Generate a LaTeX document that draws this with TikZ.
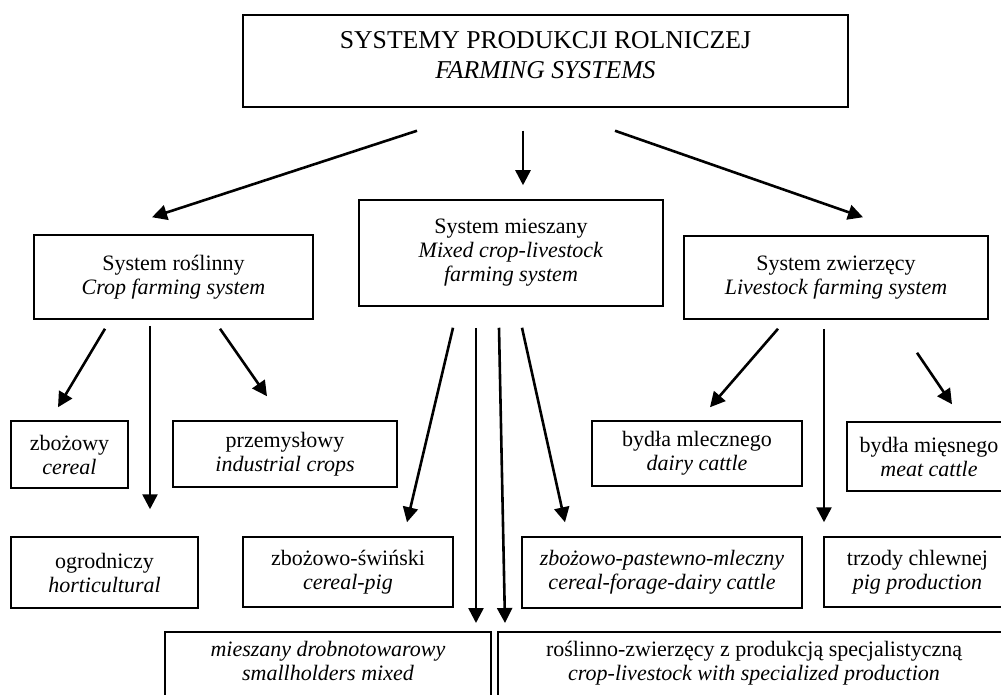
\documentclass[tikz,border=0pt]{standalone}
\usepackage{fontspec}
\setmainfont{Liberation Serif}
\usepackage{tikz}
\usetikzlibrary{arrows.meta}

\begin{document}
\begin{tikzpicture}[
            x=1pt, y=-1pt,
            box/.style={draw=black, line width=1.5pt, rectangle, inner sep=0pt, align=center, font=\fontsize{22}{24}\selectfont},
            topbox/.style={box, font=\fontsize{25.7}{30}\selectfont, text depth=12pt},
            lowbox/.style={box, anchor=north, inner ysep=9pt, text depth=60pt},
            edge/.style={line width=2.6pt, -{Triangle[length=15pt, width=15pt]}}
        ]

        \useasboundingbox (0,0) rectangle (1001,695);
        \clip (0,0) rectangle (1001,695);

        % Knoten
        \node[topbox, minimum width=605pt, minimum height=92pt] (farm) at (545.5,61) {SYSTEMY PRODUKCJI ROLNICZEJ\\ \textit{FARMING SYSTEMS}};
        \node[box, minimum width=279pt, minimum height=84pt] (crop) at (173.5,277) {System roślinny\\ \textit{Crop farming system}};
        \node[box, minimum width=304pt, minimum height=106pt] (mixed) at (511,253) {System mieszany\\ \textit{Mixed crop-livestock}\\ \textit{farming system}};
        \node[box, minimum width=304pt, minimum height=83pt] (live) at (836,277.5) {System zwierzęcy\\ \textit{Livestock farming system}};

        \node[box, minimum width=117pt, minimum height=67pt] (cereal) at (69.5,454.5) {zbożowy\\ \textit{cereal}};
        \node[box, minimum width=224pt, minimum height=66pt] (indust) at (285,454) {przemysłowy\\ \textit{industrial crops}};
        \node[box, minimum width=210pt, minimum height=65pt] (dairy) at (697,453.5) {bydła mlecznego\\ \textit{dairy cattle}};
        \node[box, minimum width=164pt, minimum height=69pt] (meat) at (929,456.5) {bydła mięsnego\\ \textit{meat cattle}};

        \node[box, minimum width=187pt, minimum height=71pt] (hort) at (104.5,572.5) {ogrodniczy\\ \textit{horticultural}};
        \node[box, minimum width=210pt, minimum height=70pt] (cerpig) at (348,572) {zbożowo-świński\\ \textit{cereal-pig}};
        \node[box, minimum width=280pt, minimum height=71pt] (cerdairy) at (662,572.5) {\textit{zbożowo-pastewno-mleczny}\\ \textit{cereal-forage-dairy cattle}};
        \node[box, minimum width=187pt, minimum height=70pt] (pig) at (917.5,572) {trzody chlewnej\\ \textit{pig production}};

        \node[lowbox, minimum width=326pt] (small) at (328,631) {\textit{mieszany drobnotowarowy}\\ \textit{smallholders mixed}};
        \node[lowbox, minimum width=512pt] (spec) at (754,631) {roślinno-zwierzęcy z produkcją specjalistyczną\\ \textit{crop-livestock with specialized production}};

        % Pfeile
        \draw[edge] ([xshift=-128.5pt, yshift=-23pt]farm.south) -- ([xshift=-21.5pt, yshift=17pt]crop.north);
        \draw[edge] ([xshift=-22.5pt, yshift=-23pt]farm.south) -- ([xshift=12pt, yshift=14pt]mixed.north);
        \draw[edge] ([xshift=69.5pt, yshift=-23pt]farm.south) -- ([xshift=27pt, yshift=18pt]live.north);

        \draw[edge] ([xshift=-68.5pt, yshift=-9pt]crop.south) -- ([xshift=-11.5pt, yshift=13pt]cereal.north);
        \draw[edge] ([xshift=-23.5pt, yshift=-6pt]crop.south) -- ([xshift=45.5pt, yshift=27pt]hort.north);
        \draw[edge] ([xshift=46.5pt, yshift=-9pt]crop.south) -- ([xshift=-18pt, yshift=24pt]indust.north);

        \draw[edge] ([xshift=-58pt, yshift=-21pt]mixed.south) -- ([xshift=59pt, yshift=14pt]cerpig.north);
        \draw[edge] ([xshift=-35pt, yshift=-21pt]mixed.south) -- ([xshift=148pt, yshift=8pt]small.north);
        \draw[edge] ([xshift=-12pt, yshift=-21pt]mixed.south) -- ([xshift=-249pt, yshift=8pt]spec.north);
        \draw[edge] ([xshift=11pt, yshift=-21pt]mixed.south) -- ([xshift=-97pt, yshift=14pt]cerdairy.north);

        \draw[edge] ([xshift=-58pt, yshift=-9pt]live.south) -- ([xshift=13pt, yshift=13pt]dairy.north);
        \draw[edge] ([xshift=-12pt, yshift=-9pt]live.south) -- ([xshift=-93.5pt, yshift=14pt]pig.north);
        \draw[edge] ([xshift=81pt, yshift=-33pt]live.south) -- ([xshift=23pt, yshift=17pt]meat.north);

    \end{tikzpicture}
\end{document}
